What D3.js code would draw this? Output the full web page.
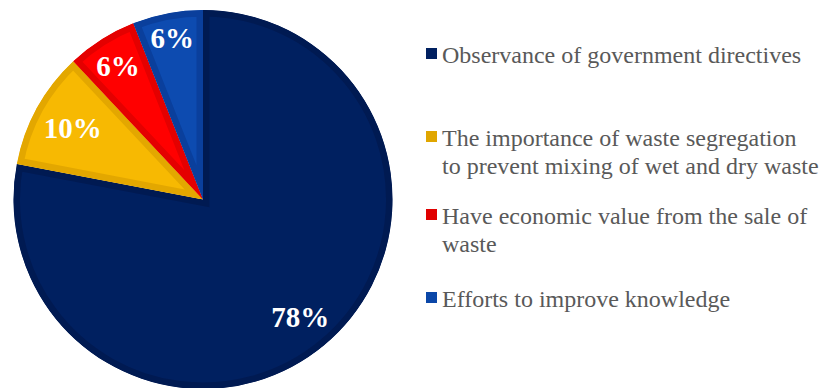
<!DOCTYPE html>
<html>
<head>
<meta charset="utf-8">
<script src="https://cdn.jsdelivr.net/npm/d3@7"></script>
<style>
  html, body { margin: 0; padding: 0; background: #ffffff; }
  svg { display: block; }
</style>
</head>
<body>
<svg id="chart" width="825" height="388"></svg>
<script>
// ---- data ----
const categories = [
  "Observance of government directives",
  "The importance of waste segregation to prevent mixing of wet and dry waste",
  "Have economic value from the sale of waste",
  "Efforts to improve knowledge"
];
const values = [78, 10, 6, 6];
const valueLabels = ["78%", "10%", "6%", "6%"];
const legendLines = [
  ["Observance of government directives"],
  ["The importance of waste segregation", "to prevent mixing of wet and dry waste"],
  ["Have economic value from the sale of", "waste"],
  ["Efforts to improve knowledge"]
];
const fillColors = ["#002060", "#F7B902", "#FF0000", "#0D4BB0"];
const edgeColors = ["#001A52", "#E3A700", "#E40000", "#0A3F9C"];
const legendColors = ["#002060", "#E0A600", "#E00000", "#0B47A8"];

// ---- layout ----
const svg = d3.select("#chart");
const cx = 203, cy = 199.5, R = 189.5;

const pie = d3.pie().sort(null).value(d => d);
const arcs = pie(values);
const arcGen = d3.arc().innerRadius(0).outerRadius(R);

const defs = svg.append("defs");
const g = svg.append("g").attr("transform", `translate(${cx},${cy})`);

arcs.forEach((a, i) => {
  const id = "clip" + i;
  defs.append("clipPath").attr("id", id).append("path").attr("d", arcGen(a));
  g.append("path")
    .attr("d", arcGen(a))
    .attr("fill", fillColors[i])
    .attr("stroke", edgeColors[i])
    .attr("stroke-width", 13)
    .attr("stroke-linejoin", "miter")
    .attr("clip-path", `url(#${id})`);
});

// labels: inside end, fit by projecting label half-box onto the radial direction
const fontSize = 29;
const labelG = g.append("g");
arcs.forEach((a, i) => {
  const t = labelG.append("text")
    .attr("font-family", "'Liberation Serif', 'Times New Roman', serif")
    .attr("font-weight", "bold")
    .attr("font-size", fontSize)
    .attr("fill", "#ffffff")
    .attr("text-anchor", "middle")
    .text(valueLabels[i]);
  const w = t.node().getComputedTextLength();
  const hw = w / 2, hh = 11;
  const mid = (a.startAngle + a.endAngle) / 2;
  const s = Math.sin(mid), c = Math.cos(mid);
  const proj = Math.abs(hw * s) + Math.abs(hh * c);
  const d = R - 10 - proj;
  const x = d * s, y = -d * c;
  t.attr("x", x).attr("y", y + fontSize * 0.36);
});

// ---- legend ----
const legFont = 24;
const legX = 426;
const lineH = 28;
const firstBaselines = [63, 146, 224, 307];
const legG = svg.append("g");
categories.forEach((cat, i) => {
  const by = firstBaselines[i];
  legG.append("rect")
    .attr("x", legX).attr("y", by - 15)
    .attr("width", 11).attr("height", 11)
    .attr("fill", legendColors[i]);
  const txt = legG.append("text")
    .attr("font-family", "'Liberation Serif', 'Times New Roman', serif")
    .attr("font-size", legFont)
    .attr("fill", "#595959");
  legendLines[i].forEach((ln, j) => {
    txt.append("tspan")
      .attr("x", legX + 16)
      .attr("y", by + j * lineH)
      .text(ln);
  });
});
</script>
</body>
</html>
